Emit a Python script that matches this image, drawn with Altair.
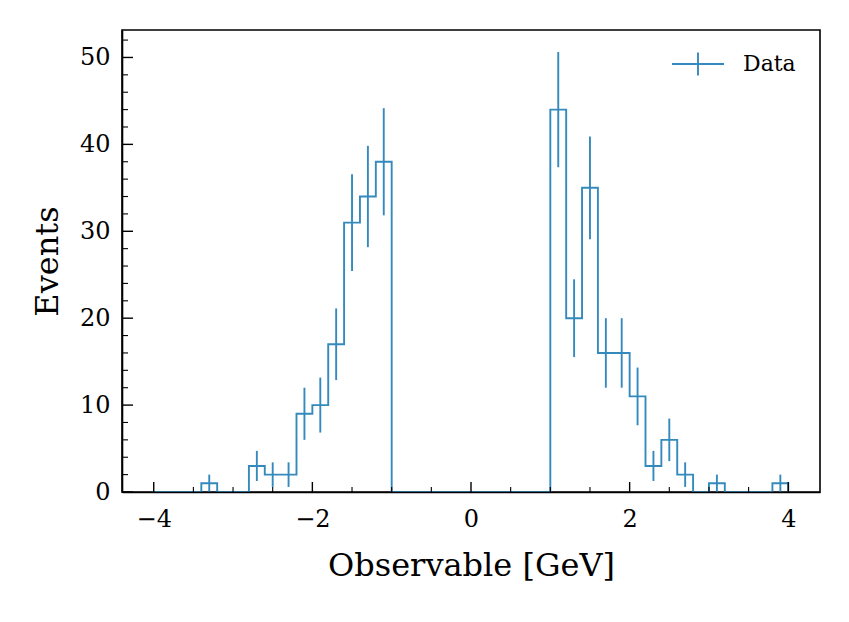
import altair as alt
import pandas as pd

# ---- data ----
bin_start = -4.0
bin_width = 0.2
counts = [0, 0, 0, 1, 0, 0, 3, 2, 2, 9,
          10, 17, 31, 34, 38, 0, 0, 0, 0, 0,
          0, 0, 0, 0, 0, 44, 20, 35, 16, 16,
          11, 3, 6, 2, 0, 1, 0, 0, 0, 1]
series_label = "Data"

x_major = [-4, -2, 0, 2, 4]
x_minor = [-3.5, -3, -2.5, -1.5, -1, -0.5, 0.5, 1, 1.5, 2.5, 3, 3.5]
y_major = [0, 10, 20, 30, 40, 50]
y_minor = [2, 4, 6, 8, 12, 14, 16, 18, 22, 24, 26, 28, 32, 34, 36, 38,
           42, 44, 46, 48, 52]

# ---- tables ----
edges = [round(bin_start + bin_width * i, 2) for i in range(len(counts) + 1)]
step_df = pd.DataFrame({"x": edges, "n": counts + [0]})
err_df = pd.DataFrame({
    "x": [round(e + bin_width / 2, 2) for e, c in zip(edges, counts) if c > 0],
    "n": [c for c in counts if c > 0],
    "label": series_label,
})

W, H = 698, 462
BLUE = "#348ABD"
FONT = "DejaVu Serif"

xs = alt.Scale(domain=[-4.4, 4.4], nice=False, zero=False)
ys = alt.Scale(domain=[0, 53.16], nice=False, zero=False)

x_axis = alt.Axis(title="Observable [GeV]", values=x_major, format="d",
                  ticks=False, grid=False, labelPadding=15, titlePadding=19,
                  labelFontSize=24, titleFontSize=32, labelFont=FONT,
                  titleFont=FONT, labelColor="black", titleColor="black",
                  titleFontWeight="normal", domainColor="black",
                  domainWidth=1.6, zindex=1)
y_axis = alt.Axis(title="Events", values=y_major, format="d",
                  ticks=False, grid=False, labelPadding=12, titlePadding=15,
                  labelFontSize=24, titleFontSize=32, labelFont=FONT,
                  titleFont=FONT, labelColor="black", titleColor="black",
                  titleFontWeight="normal", domainColor="black",
                  domainWidth=1.6, zindex=1)

step = alt.Chart(step_df).mark_line(
    interpolate="step-after", color=BLUE, strokeWidth=1.9
).encode(
    x=alt.X("x:Q", scale=xs, axis=x_axis),
    y=alt.Y("n:Q", scale=ys, axis=y_axis),
)

errs = alt.Chart(err_df).transform_calculate(
    lo="datum.n - sqrt(datum.n)", hi="datum.n + sqrt(datum.n)"
).mark_rule(strokeWidth=1.9).encode(
    x=alt.X("x:Q", scale=xs),
    y=alt.Y("lo:Q", scale=ys),
    y2="hi:Q",
    color=alt.Color("label:N", scale=alt.Scale(range=[BLUE]),
                    legend=alt.Legend(
                        title=None, orient="none", legendX=549, legendY=7,
                        symbolType="M-1,0H1M0,-0.44V0.44", symbolSize=2704,
                        symbolStrokeWidth=1.9, symbolFillColor="transparent",
                        labelFont=FONT, labelFontSize=22, labelColor="black",
                        labelOffset=18, padding=0)),
)

xmaj = alt.Chart(pd.DataFrame({"v": x_major})).mark_rule(
    color="black", strokeWidth=1.4).encode(
    x=alt.X("v:Q", scale=xs), y=alt.value(H), y2=alt.value(H - 10))
xmin = alt.Chart(pd.DataFrame({"v": x_minor})).mark_rule(
    color="black", strokeWidth=1.1).encode(
    x=alt.X("v:Q", scale=xs), y=alt.value(H), y2=alt.value(H - 5))
ymaj = alt.Chart(pd.DataFrame({"v": y_major})).mark_rule(
    color="black", strokeWidth=1.4).encode(
    y=alt.Y("v:Q", scale=ys), x=alt.value(0), x2=alt.value(11))
ymin = alt.Chart(pd.DataFrame({"v": y_minor})).mark_rule(
    color="black", strokeWidth=1.1).encode(
    y=alt.Y("v:Q", scale=ys), x=alt.value(0), x2=alt.value(6))

chart = alt.layer(step, errs, xmaj, xmin, ymaj, ymin).properties(
    width=W, height=H,
    autosize=alt.AutoSizeParams(type="none"),
    padding={"left": 114, "top": 22, "right": 21, "bottom": 122},
    background="white",
).configure_view(stroke="black", strokeWidth=1.6)

chart.save("out.html", embed_options={"renderer": "svg", "actions": False})
